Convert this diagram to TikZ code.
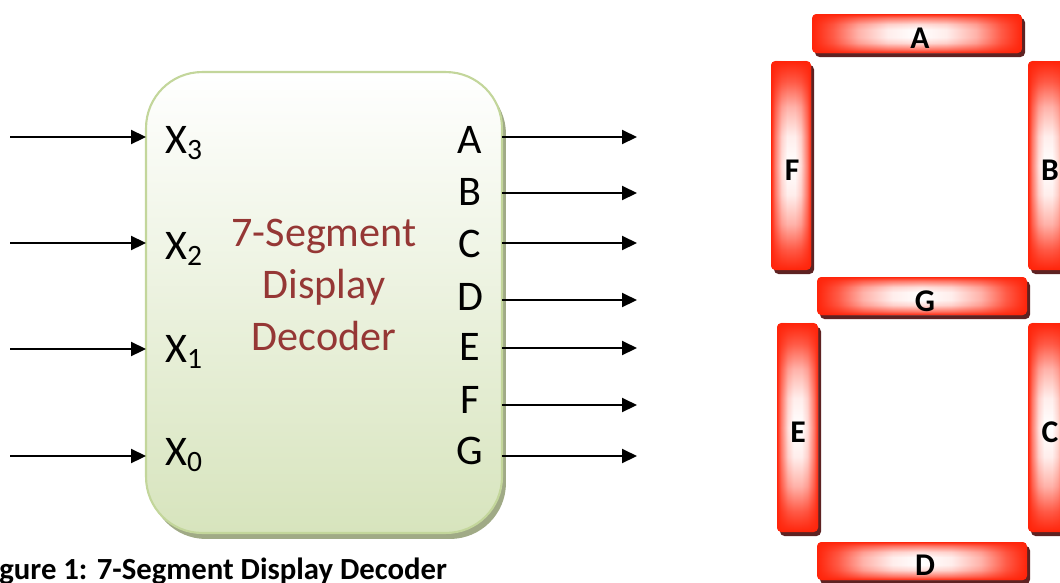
\documentclass[tikz,border=0pt]{standalone}
\usepackage{fontspec}
\setmainfont{Carlito}
\usetikzlibrary{arrows.meta,shadows,fadings}
\definecolor{boxborder}{HTML}{C3D69B}
\definecolor{boxbottom}{HTML}{D7E4BD}
\definecolor{boxshadow}{HTML}{A0AA86}
\definecolor{titlered}{HTML}{953735}
\definecolor{segred}{HTML}{FF240A}
\definecolor{segshadow}{HTML}{5E2222}
\pgfdeclarehorizontalshading{hsegshade}{100bp}{color(0bp)=(segred); color(25bp)=(segred); color(30bp)=(segred!75!white); color(36bp)=(segred!35!white); color(43bp)=(white!92!segred); color(50bp)=(white); color(57bp)=(white!92!segred); color(64bp)=(segred!35!white); color(70bp)=(segred!75!white); color(75bp)=(segred); color(100bp)=(segred)}
\pgfdeclareverticalshading{vsegshade}{100bp}{color(0bp)=(segred); color(25bp)=(segred); color(30bp)=(segred!75!white); color(36bp)=(segred!35!white); color(43bp)=(white!92!segred); color(50bp)=(white); color(57bp)=(white!92!segred); color(64bp)=(segred!35!white); color(70bp)=(segred!75!white); color(75bp)=(segred); color(100bp)=(segred)}
\pgfdeclareverticalshading{vfadeshade}{100bp}{color(0bp)=(white); color(25bp)=(white); color(30bp)=(black!40); color(38bp)=(black!85); color(45bp)=(black); color(55bp)=(black); color(62bp)=(black!85); color(70bp)=(black!40); color(75bp)=(white); color(100bp)=(white)}
\pgfdeclarehorizontalshading{hfadeshade}{100bp}{color(0bp)=(white); color(25bp)=(white); color(30bp)=(black!40); color(38bp)=(black!85); color(45bp)=(black); color(55bp)=(black); color(62bp)=(black!85); color(70bp)=(black!40); color(75bp)=(white); color(100bp)=(white)}
\pgfdeclarefading{vfade}{\pgfuseshading{vfadeshade}}
\pgfdeclarefading{hfade}{\pgfuseshading{hfadeshade}}
\tikzset{
  decoder/.style={draw=boxborder, line width=1.2pt, rounded corners=1.12cm,
    minimum width=7.12cm, minimum height=9.22cm, inner sep=0pt, outer sep=0pt,
    top color=white, bottom color=boxbottom,
    drop shadow={shadow xshift=0.08cm, shadow yshift=-0.12cm, fill=boxshadow, opacity=1}},
  sig/.style={line width=1.15pt, -{Triangle[length=0.3cm,width=0.28cm]}},
  pinlabel/.style={font=\fontsize{24}{28}\selectfont, inner sep=0pt},
  titletext/.style={font=\fontsize{24}{29.5}\selectfont, text=titlered, align=center, inner sep=0pt},
  captiontext/.style={font=\bfseries\fontsize{17.5}{21}\selectfont, inner sep=0pt},
  seglabel/.style={font=\bfseries\fontsize{18}{21}\selectfont, inner sep=0pt},
  segshadowfill/.style={fill=segshadow, rounded corners=0.09cm},
  segbase/.style={rounded corners=0.09cm},
}
\newcommand\hseg[4]{%
  \fill[segshadowfill] (#1+3,#2+4) rectangle (#3+3,#4+4);
  \shade[segbase, shading=hsegshade] (#1,#2) rectangle (#3,#4);
  \fill[segbase, segred, path fading=vfade] (#1,#2) rectangle (#3,#4);
}
\newcommand\vseg[4]{%
  \fill[segshadowfill] (#1+3,#2+4) rectangle (#3+3,#4+4);
  \shade[segbase, shading=vsegshade] (#1,#2) rectangle (#3,#4);
  \fill[segbase, segred, path fading=hfade] (#1,#2) rectangle (#3,#4);
}
\begin{document}
\begin{tikzpicture}[x=0.02cm, y=-0.02cm]
\useasboundingbox (0,0) rectangle (1060,582);

% decoder block
\node[decoder] (dec) at (324,302.5) {};

% input pins
\node[pinlabel, anchor=base west] (lx3) at (165,153) {X\textsubscript{3}};
\node[pinlabel, anchor=base west] (lx2) at (165,259) {X\textsubscript{2}};
\node[pinlabel, anchor=base west] (lx1) at (165,362) {X\textsubscript{1}};
\node[pinlabel, anchor=base west] (lx0) at (165,465) {X\textsubscript{0}};

\coordinate (in3) at (10,137);
\coordinate (in2) at (10,243);
\coordinate (in1) at (10,349);
\coordinate (in0) at (10,456);
\foreach \i in {3,2,1,0} { \draw[sig] (in\i) -- (dec.west |- in\i); }

% output pins
\node[pinlabel, anchor=base] (lA) at (470,153) {A};
\node[pinlabel, anchor=base] (lB) at (470,205) {B};
\node[pinlabel, anchor=base] (lC) at (470,257) {C};
\node[pinlabel, anchor=base] (lD) at (470,310) {D};
\node[pinlabel, anchor=base] (lE) at (470,360) {E};
\node[pinlabel, anchor=base] (lF) at (470,413) {F};
\node[pinlabel, anchor=base] (lG) at (470,464) {G};

\coordinate (oA) at (637,137);
\coordinate (oB) at (637,193);
\coordinate (oC) at (637,243);
\coordinate (oD) at (637,300);
\coordinate (oE) at (637,348);
\coordinate (oF) at (637,405);
\coordinate (oG) at (637,456);
\foreach \o in {A,B,C,D,E,F,G} { \draw[sig] (dec.east |- o\o) -- (o\o); }

% title
\node[titletext] (title) at (324,285) {7-Segment\\Display\\Decoder};

% caption
\node[captiontext, anchor=base west] (caption) at (-1,579) {gure 1: 7-Segment Display Decoder};

% seven segment display
\hseg{812}{14}{1022}{53}
\vseg{771}{61}{811}{270}
\vseg{1028}{61}{1068}{270}
\hseg{817}{277}{1027}{315}
\vseg{777}{323}{818}{532}
\vseg{1028}{323}{1068}{532}
\hseg{817}{542}{1027}{580}

\node[seglabel] (sA) at (920,38) {A};
\node[seglabel] (sF) at (792,170) {F};
\node[seglabel] (sB) at (1050,170) {B};
\node[seglabel] (sG) at (925,301) {G};
\node[seglabel] (sE) at (798,432) {E};
\node[seglabel] (sC) at (1050,432) {C};
\node[seglabel] (sD) at (925,565) {D};
\end{tikzpicture}
\end{document}
